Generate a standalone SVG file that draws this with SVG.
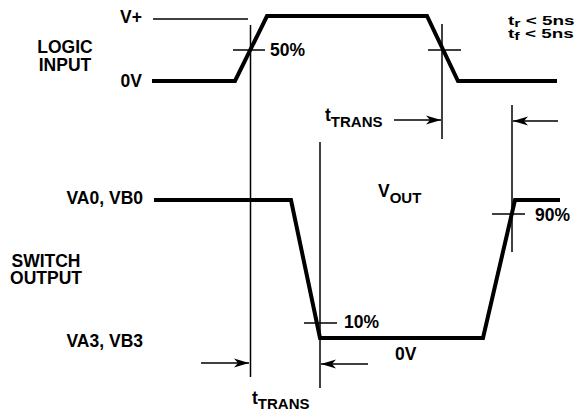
<svg xmlns="http://www.w3.org/2000/svg" width="581" height="413" viewBox="0 0 581 413">
<style>
  .wave { fill: none; stroke: #000; stroke-width: 4; stroke-linejoin: miter; }
  .thin { fill: none; stroke: #000; stroke-width: 1.5; }
  .arr { fill: none; stroke: #000; stroke-width: 1.5; marker-end: url(#ah); }
  text { font-family: "Liberation Sans", Arial, sans-serif; font-weight: bold; font-size: 17.5px; fill: #000; }
  .sub { font-size: 15px; }
  .small { font-size: 13.5px; }
  .ssub { font-size: 11.5px; }
</style>
<defs>
  <marker id="ah" markerUnits="userSpaceOnUse" markerWidth="18" markerHeight="10" refX="15" refY="5" orient="auto" viewBox="0 0 18 10">
    <path d="M0,0.5 L15,5 L0,9.5 L4,5 Z" fill="#000"/>
  </marker>
</defs>

<g id="waveforms">
  <path id="logic-wave" class="wave" d="M152,81 L235,81 L267,16 L427,16 L458,81 L557,81"/>
  <path id="switch-wave" class="wave" d="M154,200 L291,200 L320,338 L483,338 L515,200 L560,200"/>
</g>

<g id="connectors">
  <line class="thin" x1="153" y1="19" x2="248" y2="19"/>
  <line class="thin" x1="250.5" y1="25" x2="250.5" y2="377"/>
  <line class="thin" x1="442" y1="24" x2="442" y2="139"/>
  <line class="thin" x1="512" y1="105" x2="512" y2="252"/>
  <line class="thin" x1="320" y1="142" x2="320" y2="388"/>
  <line class="thin" x1="233" y1="50" x2="265" y2="50"/>
  <line class="thin" x1="428" y1="50" x2="461" y2="50"/>
  <line class="thin" x1="492" y1="214" x2="525" y2="214"/>
  <line class="thin" x1="304" y1="323" x2="337" y2="323"/>
  <line class="arr" x1="394" y1="120" x2="441" y2="120"/>
  <line class="arr" x1="558" y1="121" x2="513" y2="121"/>
  <line class="arr" x1="201" y1="363" x2="249" y2="363"/>
  <line class="arr" x1="368" y1="364" x2="321" y2="364"/>
</g>

<g id="logic-input-label">
  <text x="65" y="53" text-anchor="middle">LOGIC</text>
  <text x="65" y="71" text-anchor="middle">INPUT</text>
</g>
<g id="vplus-label"><text x="142" y="23" text-anchor="end">V+</text></g>
<g id="zero-v-top"><text x="142" y="87" text-anchor="end">0V</text></g>
<g id="pct50"><text x="270" y="56">50%</text></g>
<g id="timing-note">
  <text class="small" transform="translate(508,0) scale(1.4,1)" x="0" y="25">t<tspan class="ssub" dy="2">r</tspan><tspan dy="-2"> &lt; 5ns</tspan></text>
  <text class="small" transform="translate(508,0) scale(1.4,1)" x="0" y="38">t<tspan class="ssub" dy="2">f</tspan><tspan dy="-2"> &lt; 5ns</tspan></text>
</g>
<g id="ttrans-top"><text x="325" y="121">t<tspan class="sub" dy="6">TRANS</tspan></text></g>
<g id="switch-output-label">
  <text x="46" y="267" text-anchor="middle">SWITCH</text>
  <text x="46" y="284" text-anchor="middle">OUTPUT</text>
</g>
<g id="va0-label"><text x="143" y="204" text-anchor="end">VA0, VB0</text></g>
<g id="vout-label"><text x="378" y="197">V<tspan class="sub" dy="6">OUT</tspan></text></g>
<g id="pct90"><text x="535" y="221">90%</text></g>
<g id="pct10"><text x="344" y="328">10%</text></g>
<g id="zero-v-bottom"><text x="395" y="360">0V</text></g>
<g id="va3-label"><text x="143" y="347" text-anchor="end">VA3, VB3</text></g>
<g id="ttrans-bottom"><text x="252" y="404">t<tspan class="sub" dy="5">TRANS</tspan></text></g>
</svg>
